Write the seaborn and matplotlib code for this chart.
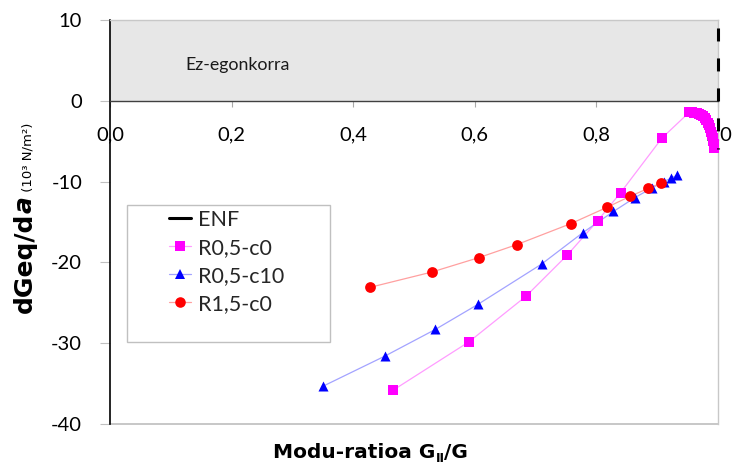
import matplotlib
matplotlib.use("Agg")
import matplotlib.pyplot as plt
from matplotlib.lines import Line2D
from matplotlib.patches import Rectangle
import seaborn as sns
import pandas as pd

# Mode ratio G_II/G and energy release derivative dGeq/da (10^3 N/m^2)
r05_c0_x = [0.466, 0.591, 0.684, 0.752, 0.802, 0.840, 0.908,
            0.953, 0.957, 0.961, 0.965, 0.969, 0.972, 0.975, 0.978, 0.981,
            0.983, 0.985, 0.987, 0.989, 0.990, 0.991, 0.992, 0.993, 0.994]
r05_c0_y = [-35.8, -29.8, -24.2, -19.1, -14.85, -11.35, -4.6,
            -1.4, -1.4, -1.45, -1.5, -1.6, -1.75, -1.9, -2.1, -2.4,
            -2.7, -3.0, -3.4, -3.8, -4.2, -4.6, -5.0, -5.4, -5.8]

r05_c10_x = [0.351, 0.452, 0.535, 0.605, 0.710, 0.778, 0.828, 0.863,
             0.891, 0.911, 0.922, 0.933]
r05_c10_y = [-35.3, -31.6, -28.3, -25.2, -20.2, -16.3, -13.7, -12.0,
             -10.8, -10.0, -9.6, -9.2]

r15_c0_x = [0.427, 0.529, 0.607, 0.669, 0.758, 0.817, 0.856, 0.885, 0.906]
r15_c0_y = [-23.1, -21.2, -19.4, -17.8, -15.2, -13.2, -11.8, -10.85, -10.2]

enf_x = [1.0, 1.0]
enf_y = [10.0, -6.0]

series_names = ["R0,5-c0", "R0,5-c10", "R1,5-c0"]
x_ticks = [0.0, 0.2, 0.4, 0.6, 0.8, 1.0]
x_tick_labels = ["0,0", "0,2", "0,4", "0,6", "0,8", "1,0"]
y_ticks = [-40, -30, -20, -10, 0, 10]
y_tick_labels = ["-40", "-30", "-20", "-10", "0", "10"]
unstable_label = "Ez-egonkorra"

sns.set_theme(style="white")
plt.rcParams["font.family"] = ["Lato", "DejaVu Sans"]

W, H = 735, 470
fig = plt.figure(figsize=(W / 100, H / 100), dpi=100)
ax = fig.add_axes([110 / W, 46 / H, 608 / W, 404 / H])

# unstable region above zero
ax.fill_between([0, 1], 0, 10, color="#e7e7e7", zorder=0, linewidth=0)
ax.text(0.1234, 3.8, unstable_label, fontsize=12.8, color="#1a1a1a",
        va="baseline", ha="left")

frames = []
for name, xs, ys in [(series_names[0], r05_c0_x, r05_c0_y),
                     (series_names[1], r05_c10_x, r05_c10_y),
                     (series_names[2], r15_c0_x, r15_c0_y)]:
    frames.append(pd.DataFrame({"ratio": xs, "dG": ys, "serie": name}))
df = pd.concat(frames, ignore_index=True)

line_cols = {"R0,5-c0": "#ff9cff", "R0,5-c10": "#a3a3ff", "R1,5-c0": "#ffa0a0"}
mark_cols = {"R0,5-c0": "#ff00ff", "R0,5-c10": "#0000ff", "R1,5-c0": "#ff0000"}
mark_shapes = {"R0,5-c0": "s", "R0,5-c10": "^", "R1,5-c0": "o"}
mark_sizes = {"R0,5-c0": 60, "R0,5-c10": 52, "R1,5-c0": 60}

for name in series_names:
    sub = df[df["serie"] == name]
    sns.lineplot(data=sub, x="ratio", y="dG", ax=ax, color=line_cols[name],
                 linewidth=0.9, sort=False, estimator=None, zorder=3,
                 legend=False)
    sns.scatterplot(data=sub, x="ratio", y="dG", ax=ax, color=mark_cols[name],
                    marker=mark_shapes[name], s=mark_sizes[name],
                    linewidth=0, zorder=4, legend=False)

# ENF limit
ax.plot(enf_x, enf_y, color="black", linewidth=2.2, clip_on=False, zorder=5,
        linestyle=(7.2, (4.25, 5.56)))

ax.set_xlim(0, 1)
ax.set_ylim(-40, 10)
ax.set_xticks(x_ticks)
ax.set_xticklabels(x_tick_labels)
ax.set_yticks(y_ticks)
ax.set_yticklabels(y_tick_labels)
ax.set_xlabel("")
ax.set_ylabel("")

ax.spines["bottom"].set_position(("data", 0))
ax.spines["bottom"].set_color("#404040")
ax.spines["bottom"].set_linewidth(1.0)
ax.spines["left"].set_color("black")
ax.spines["left"].set_linewidth(1.2)
for s in ("top", "right"):
    ax.spines[s].set_color("#c8c8c8")
    ax.spines[s].set_linewidth(1.0)
ax.axhline(-40, color="#bdbdbd", linewidth=1.2, clip_on=False, zorder=1)

ax.tick_params(axis="x", direction="out", length=4.3, width=0.8,
               color="#a8a8a8", pad=14.4, labelsize=14.5, labelcolor="black",
               bottom=True)
ax.tick_params(axis="y", direction="out", length=7, width=0.8,
               color="#c0c0c0", pad=13, labelsize=14.5, labelcolor="black",
               left=True)

# legend with a separate wide frame
ax.add_patch(Rectangle((16.7 / 608, (424 - 341.7) / 404), 203.3 / 608,
                       136.7 / 404, transform=ax.transAxes, facecolor="white",
                       edgecolor="#c0c0c0", linewidth=1.0, zorder=6))
handles = [Line2D([], [], color="black", linewidth=2.2),
           Line2D([], [], color=line_cols["R0,5-c0"], linewidth=0.9,
                  marker="s", markersize=7.6, markerfacecolor="#ff00ff",
                  markeredgewidth=0),
           Line2D([], [], color=line_cols["R0,5-c10"], linewidth=0.9,
                  marker="^", markersize=7.2, markerfacecolor="#0000ff",
                  markeredgewidth=0),
           Line2D([], [], color=line_cols["R1,5-c0"], linewidth=0.9,
                  marker="o", markersize=7.6, markerfacecolor="#ff0000",
                  markeredgewidth=0)]
leg = ax.legend(handles, ["ENF"] + series_names, loc="upper left",
                bbox_to_anchor=((169 - 110) / 608, (424 - 210) / 404),
                frameon=False, fontsize=15.5, handlelength=1.0,
                handletextpad=0.34, labelspacing=0.37, borderpad=0,
                borderaxespad=0)
leg.set_zorder(7)

renderer = fig.canvas.get_renderer()

# y label assembled from pieces along a common baseline
y_pos = (H - 313) / H
x_base = 31.5 / W
for txt, kw in [("dGeq/d", dict(fontsize=18, fontweight="bold")),
                ("a", dict(fontsize=18, fontweight="bold", style="italic")),
                (" (10³ N/m²)", dict(fontsize=9.5))]:
    t = fig.text(x_base, y_pos, txt, rotation=90, rotation_mode="anchor",
                 ha="left", va="baseline", color="black",
                 family="DejaVu Sans", **kw)
    bb = t.get_window_extent(renderer)
    y_pos += bb.height / H

# x label with subscript
x_pos = 273 / W
y_base = (H - 458) / H
for txt, size, dy in [("Modu-ratioa G", 14.5, 0),
                      ("II", 9.0, -4.5),
                      ("/G", 14.5, 0)]:
    t = fig.text(x_pos, y_base + dy / H, txt, ha="left", va="baseline",
                 color="black", fontsize=size, fontweight="bold",
                 family="DejaVu Sans")
    bb = t.get_window_extent(renderer)
    x_pos += bb.width / W

fig.savefig("out.png", dpi=100)
